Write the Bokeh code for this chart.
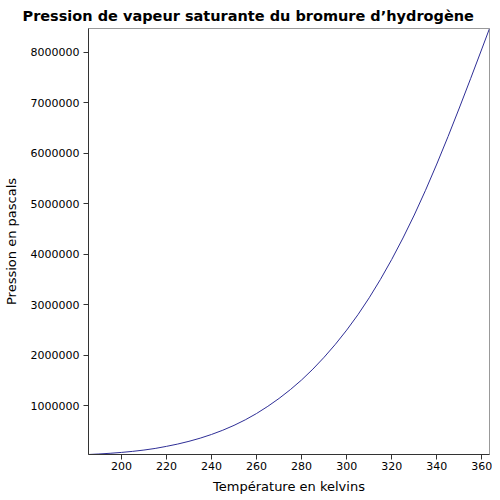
from bokeh.plotting import figure
from bokeh.models import Range1d, FixedTicker, BasicTickFormatter
from bokeh.embed import file_html
from bokeh.resources import INLINE

# Temperature (K) and saturated vapour pressure (Pa)
temperature = [185.4, 190, 195, 200, 205, 210, 215, 220, 225, 230, 235, 240,
               245, 250, 255, 260, 265, 270, 275, 280, 285, 290, 295, 300,
               305, 310, 315, 320, 325, 330, 335, 340, 345, 350, 355, 360, 363.4]
pressure = [31000, 41000, 55000, 72000, 93000, 119000, 151000, 192000, 238000,
            292000, 355000, 428000, 512000, 608000, 718000, 843000, 985000,
            1142000, 1316000, 1508000, 1722000, 1958000, 2215000, 2495000,
            2800000, 3135000, 3500000, 3895000, 4320000, 4775000, 5265000,
            5785000, 6330000, 6895000, 7475000, 8065000, 8470000]

x_ticks = [200, 220, 240, 260, 280, 300, 320, 340, 360]
y_ticks = [1000000, 2000000, 3000000, 4000000, 5000000, 6000000, 7000000, 8000000]

title_text = "Pression de vapeur saturante du bromure d\u2019hydrog\u00e8ne"
x_label = "Temp\u00e9rature en kelvins"
y_label = "Pression en pascals"

FONT = "DejaVu Sans"

p = figure(frame_width=401, frame_height=426, output_backend="svg", toolbar_location=None,
           x_range=Range1d(min(temperature), max(temperature)),
           y_range=Range1d(min(pressure), max(pressure)),
           min_border_left=80, min_border_right=3, min_border_top=20,
           min_border_bottom=38)

p.line(temperature, pressure, line_color="#2e2e96", line_width=1)

p.title.text = title_text
p.title.text_font = FONT
p.title.text_font_size = "14.5px"
p.title.text_font_style = "bold"
p.title.align = "left"
p.title.offset = -66
p.title.standoff = 10
p.title.text_color = "#000000"

p.xgrid.visible = False
p.ygrid.visible = False
p.outline_line_color = "#999999"
p.outline_line_width = 1
p.background_fill_color = "white"
p.border_fill_color = "white"

for ax in (p.xaxis[0], p.yaxis[0]):
    ax.axis_line_color = "#333333"
    ax.major_tick_line_color = "#333333"
    ax.major_tick_in = 0
    ax.major_tick_out = 5
    ax.minor_tick_line_color = None
    ax.major_label_text_font = FONT
    ax.major_label_text_font_size = "11px"
    ax.major_label_text_color = "#000000"
    ax.axis_label_text_font = FONT
    ax.axis_label_text_font_size = "13px"
    ax.axis_label_text_font_style = "normal"
    ax.axis_label_text_color = "#000000"

p.xaxis.ticker = FixedTicker(ticks=x_ticks)
p.yaxis.ticker = FixedTicker(ticks=y_ticks)
p.yaxis.formatter = BasicTickFormatter(use_scientific=False)
p.xaxis.axis_label = x_label
p.yaxis.axis_label = y_label
p.xaxis.major_label_standoff = 2
p.yaxis.major_label_standoff = 4
p.xaxis.axis_label_standoff = 6
p.yaxis.axis_label_standoff = 9

open("out.html", "w").write(file_html(p, INLINE))
